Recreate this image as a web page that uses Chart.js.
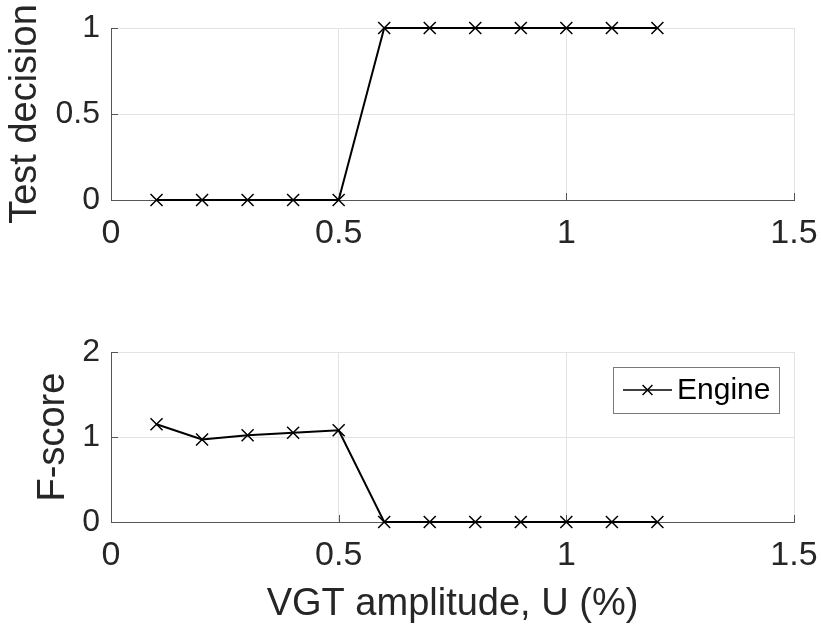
<!DOCTYPE html>
<html>
<head>
<meta charset="utf-8">
<script src="https://cdn.jsdelivr.net/npm/chart.js@4/dist/chart.umd.min.js"></script>
<style>
  html, body { margin: 0; padding: 0; background: #fff; }
  #wrap { position: relative; width: 821px; height: 628px; }
  canvas { position: absolute; left: 0; }
  #decisionChart { top: 0; }
  #scoreChart { top: 330px; }
</style>
</head>
<body>
<div id="wrap">
  <canvas id="decisionChart" width="821" height="270"></canvas>
  <canvas id="scoreChart" width="821" height="298"></canvas>
</div>
<script>
// VGT amplitude steps and the two results per step
const amplitude = [0.1, 0.2, 0.3, 0.4, 0.5, 0.6, 0.7, 0.8, 0.9, 1.0, 1.1, 1.2];
const testDecision = [0, 0, 0, 0, 0, 1, 1, 1, 1, 1, 1, 1];
const fScore = [1.15, 0.97, 1.02, 1.05, 1.08, 0, 0, 0, 0, 0, 0, 0];
const seriesName = 'Engine';

const xTicks = [0, 0.5, 1, 1.5];
const decisionTicks = [0, 0.5, 1];
const scoreTicks = [0, 1, 2];

const FONT = '"Liberation Sans", Arial, Helvetica, sans-serif';
const TEXT = '#262626';
const GRID = '#e3e3e3';
const AXIS = '#555555';

// keep the plot box where the layout puts it (no extra room for tick labels)
function fixBox(size) {
	return s => {
		if (s.isHorizontal()) s.height = size; else s.width = size;
		s.paddingTop = 0;
		s.paddingBottom = 0;
		s.paddingLeft = 0;
		s.paddingRight = 0;
	};
}

// inward tick marks + optional boxed legend in the top right corner
const matlabAxes = {
	id: 'matlabAxes',
	beforeDatasetsDraw(chart) {
		const ctx = chart.ctx;
		const area = chart.chartArea;
		const sx = chart.scales.x, sy = chart.scales.y;
		ctx.save();
		ctx.strokeStyle = AXIS;
		ctx.lineWidth = 1;
		ctx.beginPath();
		for (const t of sx.ticks) {
			const px = Math.round(sx.getPixelForValue(t.value)) + 0.5;
			ctx.moveTo(px, area.bottom);
			ctx.lineTo(px, area.bottom - 7);
		}
		for (const t of sy.ticks) {
			const py = Math.round(sy.getPixelForValue(t.value)) + 0.5;
			ctx.moveTo(area.left, py);
			ctx.lineTo(area.left + 7, py);
		}
		ctx.stroke();
		ctx.restore();
	},
	afterDraw(chart, args, opts) {
		if (!opts.legend) return;
		const ctx = chart.ctx;
		const area = chart.chartArea;
		const ds = chart.data.datasets[0];
		const w = 166, h = 46;
		const left = area.right - 15 - w;
		const top = area.top + 15;
		const midY = top + h / 2;
		ctx.save();
		ctx.fillStyle = '#fff';
		ctx.fillRect(left, top, w, h);
		ctx.strokeStyle = '#7a7a7a';
		ctx.lineWidth = 1;
		ctx.strokeRect(left + 0.5, top + 0.5, w, h);
		ctx.strokeStyle = '#000';
		ctx.lineWidth = 1.5;
		ctx.beginPath();
		ctx.moveTo(left + 10, midY);
		ctx.lineTo(left + 59, midY);
		ctx.stroke();
		Chart.helpers.drawPoint(ctx, {pointStyle: 'crossRot', radius: 7, rotation: 0, borderWidth: 1.3}, left + 34.5, midY);
		ctx.fillStyle = '#000';
		ctx.font = '30px ' + FONT;
		ctx.textBaseline = 'middle';
		ctx.fillText(ds.label, left + 64, midY + 1);
		ctx.restore();
	}
};

function makeChart(id, values, yTicks, yMax, yTitle, opts) {
	const points = amplitude.map((x, i) => ({x: x, y: values[i]}));
	return new Chart(document.getElementById(id), {
		type: 'line',
		data: {
			datasets: [{
				label: seriesName,
				data: points,
				borderColor: '#000',
				borderWidth: 2,
				pointStyle: 'crossRot',
				pointRadius: 8.5,
				pointBorderWidth: 1.5,
				pointBorderColor: '#000',
				pointBackgroundColor: '#000',
				tension: 0,
				clip: false
			}]
		},
		options: {
			responsive: false,
			animation: false,
			events: [],
			layout: {padding: {top: opts.padTop, right: 27, left: 0, bottom: 0}},
			scales: {
				x: {
					type: 'linear',
					min: 0,
					max: 1.5,
					afterBuildTicks: s => { s.ticks = xTicks.map(v => ({value: v})); },
					afterFit: fixBox(opts.xHeight),
					grid: {color: GRID, lineWidth: 1, drawTicks: false},
					border: {color: AXIS, width: 1},
					ticks: {
						padding: 13,
						color: TEXT,
						font: {family: FONT, size: 34},
						maxRotation: 0,
						autoSkip: false,
						callback: v => String(v)
					},
					title: opts.xTitle ? {
						display: true,
						text: opts.xTitle,
						color: TEXT,
						font: {family: FONT, size: 38},
						padding: {top: 0, bottom: 1}
					} : {display: false}
				},
				y: {
					type: 'linear',
					min: 0,
					max: yMax,
					afterBuildTicks: s => { s.ticks = yTicks.map(v => ({value: v})); },
					afterFit: fixBox(111),
					grid: {color: GRID, lineWidth: 1, drawTicks: false},
					border: {color: AXIS, width: 1},
					ticks: {
						padding: 11,
						color: TEXT,
						font: {family: FONT, size: 32},
						callback: v => String(v)
					},
					title: {
						display: true,
						text: yTitle,
						color: TEXT,
						font: {family: FONT, size: 38},
						padding: {top: opts.yTitlePad, bottom: 0}
					}
				}
			},
			plugins: {
				legend: {display: false},
				tooltip: {enabled: false},
				matlabAxes: {legend: opts.legend}
			}
		},
		plugins: [matlabAxes]
	});
}

makeChart('decisionChart', testDecision, decisionTicks, 1, 'Test decision',
	{padTop: 28, xHeight: 70, yTitlePad: 3, legend: false});
makeChart('scoreChart', fScore, scoreTicks, 2, 'F-score',
	{padTop: 22, xHeight: 106, yTitlePad: 31, legend: true, xTitle: 'VGT amplitude, U (%)'});
</script>
</body>
</html>
